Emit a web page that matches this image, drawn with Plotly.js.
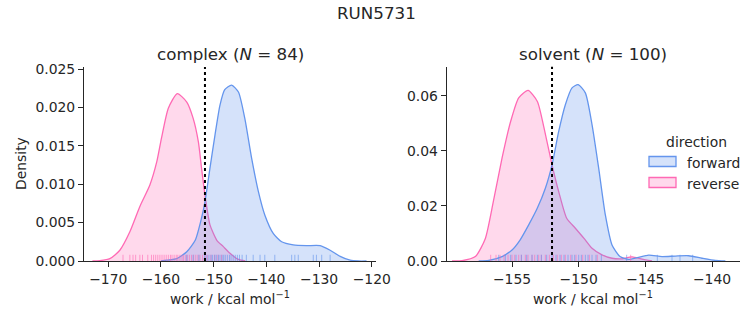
<!DOCTYPE html>
<html>
<head>
<meta charset="utf-8">
<script src="https://cdn.plot.ly/plotly-3.0.1.min.js"></script>
<style>html,body{margin:0;padding:0;background:#fff;}#plot{width:753px;height:325px;}</style>
</head>
<body>
<div id="plot"></div>
<script>
// ---- data ----
const complexFwdX = [-160, -158.9, -157.0, -155.1, -153.5, -152.3, -151.65, -150.7, -149.75, -148.8, -147.9, -146.6, -145.3, -144.1, -142.8, -141.5, -140.3, -138.7, -137.1, -134.9, -132.4, -129.8, -127.9, -126.0, -124.1, -122.5, -121];
const complexFwdY = [0, 0.0001, 0.0003, 0.0012, 0.0027, 0.0056, 0.0077, 0.0121, 0.0164, 0.0203, 0.0223, 0.0229, 0.0220, 0.0186, 0.0134, 0.0090, 0.0060, 0.0036, 0.0025, 0.0021, 0.0020, 0.0020, 0.0014, 0.0006, 0.0001, 0, 0];
const complexRevX = [-173, -171.6, -169.7, -167.8, -165.9, -164.0, -162.1, -160.8, -159.9, -158.6, -156.9, -155.1, -153.9, -152.9, -152.3, -151.65, -150.7, -149.4, -148.2, -146.9, -145.3, -144.0];
const complexRevY = [0, 0.00005, 0.0003, 0.0014, 0.0038, 0.0071, 0.0099, 0.0129, 0.0160, 0.0199, 0.0218, 0.0207, 0.0186, 0.0155, 0.0121, 0.0086, 0.0047, 0.0027, 0.0019, 0.0010, 0.0002, 0];
const solventFwdX = [-157.5, -156.75, -155.75, -155.0, -154.4, -153.75, -153.1, -152.5, -152.0, -151.5, -151.0, -150.5, -150.05, -149.5, -149.0, -148.5, -148.0, -147.5, -146.9, -146.25, -145.6, -144.75, -143.75, -142.75, -141.75, -140.75, -139.75, -139.0];
const solventFwdY = [0, 0.0002, 0.0016, 0.0040, 0.0076, 0.0131, 0.0192, 0.0264, 0.0349, 0.0470, 0.0567, 0.0628, 0.0640, 0.0610, 0.0495, 0.0337, 0.0167, 0.0058, 0.0016, 0.0006, 0.0012, 0.0021, 0.0016, 0.0018, 0.0019, 0.0010, 0.0002, 0];
const solventRevX = [-159.5, -158.75, -157.75, -157.0, -156.4, -155.75, -155.1, -154.5, -153.8, -153.1, -152.6, -152.0, -151.5, -150.9, -150.25, -149.6, -149.0, -148.25, -147.5, -146.75, -146.0, -145.25, -144.5];
const solventRevY = [0, 0.0001, 0.0016, 0.0082, 0.0216, 0.0373, 0.0507, 0.0592, 0.0619, 0.0579, 0.0483, 0.0349, 0.0252, 0.0155, 0.0119, 0.0082, 0.0046, 0.0022, 0.0010, 0.0008, 0.0015, 0.0007, 0];

const complexFwdRug = [-155.1, -153.9, -152.8, -151.7, -151.3, -150.9, -150.5, -150.2, -149.8, -149.5, -149.1, -148.8, -148.4, -148.1, -147.8, -147.4, -147.0, -146.7, -146.3, -145.9, -145.5, -145.1, -144.6, -143.8, -142.5, -141.2, -140.3, -138.4, -135.2, -134.6, -133.95, -131.1, -130.5, -129.5, -127.9];
const complexRevRug = [-167.2, -165.9, -165.3, -164.8, -164.0, -163.5, -162.5, -161.8, -161.4, -161.0, -160.6, -160.2, -159.8, -159.4, -159.0, -158.6, -158.2, -157.9, -157.5, -157.1, -156.8, -156.4, -156.0, -155.7, -155.3, -155.0, -154.6, -154.2, -153.8, -153.4, -153.0, -152.6, -152.1, -151.6, -151.2, -150.5, -149.8, -149.2, -148.5];
const solventFwdRug = [-156.0, -155.5, -155.1, -154.7, -154.3, -153.9, -153.5, -153.1, -152.8, -152.4, -152.0, -151.7, -151.4, -151.1, -150.8, -150.5, -150.3, -150.0, -149.8, -149.5, -149.3, -149.0, -148.7, -148.3, -146.4, -144.1, -143.0, -142.4, -141.45];
const solventRevRug = [-156.6, -156.2, -155.9, -155.6, -155.3, -155.0, -154.8, -154.5, -154.3, -154.0, -153.8, -153.5, -153.3, -153.0, -152.8, -152.5, -152.2, -151.9, -151.6, -151.3, -151.0, -150.6, -150.2, -149.7, -149.2, -148.6, -146.1];

const meanLines = [-151.65, -152.0];
const panelTitles = ['complex (<i>N</i> = 84)', 'solvent (<i>N</i> = 100)'];
const directions = ['forward', 'reverse'];

// ---- styling ----
const BLUE = '#6495ED', PINK = '#FF69B4';
const BLUEF = 'rgba(100,149,237,0.27)', PINKF = 'rgba(255,105,180,0.25)';
const FONT = 'DejaVu Sans, sans-serif';
const TXT = '#262626';
const W = 753, H = 325;
const px = v => v / W, py = v => 1 - v / H;

function kde(x, y, xa, ya, color, fill, name) {
  return {x: x, y: y, xaxis: xa, yaxis: ya, type: 'scatter', mode: 'lines',
    line: {color: color, width: 1.3, shape: 'spline', smoothing: 0.6},
    fill: 'toself', fillcolor: fill, name: name, showlegend: false, hoverinfo: 'skip'};
}
function rug(x, xa, ya, color) {
  return {x: x, y: x.map(() => 0.014), xaxis: xa, yaxis: ya, type: 'scatter', mode: 'markers',
    marker: {symbol: 'line-ns', size: 5, line: {color: color, width: 1}}, opacity: 0.6,
    showlegend: false, hoverinfo: 'skip'};
}
function legendEntry(name) {
  return {x: [null], y: [null], xaxis: 'x2', yaxis: 'y2', type: 'scatter', mode: 'lines',
    line: {color: 'rgba(0,0,0,0)', width: 0}, name: name, showlegend: true, hoverinfo: 'skip'};
}

const traces = [
  kde(complexRevX, complexRevY, 'x', 'y', PINK, PINKF, directions[1]),
  kde(complexFwdX, complexFwdY, 'x', 'y', BLUE, BLUEF, directions[0]),
  kde(solventRevX, solventRevY, 'x2', 'y2', PINK, PINKF, directions[1]),
  kde(solventFwdX, solventFwdY, 'x2', 'y2', BLUE, BLUEF, directions[0]),
  rug(complexRevRug, 'x', 'y3', PINK),
  rug(complexFwdRug, 'x', 'y3', BLUE),
  rug(solventRevRug, 'x2', 'y4', PINK),
  rug(solventFwdRug, 'x2', 'y4', BLUE),
  legendEntry(directions[0]),
  legendEntry(directions[1])
];

const axBase = {showgrid: false, zeroline: false, showline: true, linecolor: TXT, linewidth: 1,
  ticks: 'outside', ticklen: 5, tickwidth: 1, tickcolor: TXT,
  tickfont: {family: FONT, size: 13.9, color: TXT}, mirror: false, fixedrange: true};

// legend patches (drawn beside the legend labels)
const legendPatches = [
  {type: 'rect', xref: 'paper', yref: 'paper', x0: px(649), x1: px(676), y0: py(166.5), y1: py(156.5),
   fillcolor: BLUEF, line: {color: BLUE, width: 1.3}, layer: 'above'},
  {type: 'rect', xref: 'paper', yref: 'paper', x0: px(649), x1: px(676), y0: py(187.5), y1: py(177.5),
   fillcolor: PINKF, line: {color: PINK, width: 1.3}, layer: 'above'}
];

const layout = {
  width: W, height: H, margin: {l: 0, r: 0, t: 0, b: 0},
  paper_bgcolor: '#fff', plot_bgcolor: 'rgba(0,0,0,0)',
  font: {family: FONT, size: 13.9, color: TXT},
  xaxis: Object.assign({}, axBase, {domain: [px(84), px(376)], range: [-174.6, -119.2], anchor: 'y', dtick: 10, tick0: -170}),
  yaxis: Object.assign({}, axBase, {domain: [py(261), py(67)], range: [0, 0.02526], anchor: 'x', dtick: 0.005, tickformat: '.3f'}),
  xaxis2: Object.assign({}, axBase, {domain: [px(446.7), px(740)], range: [-159.9, -137.9], anchor: 'y2', dtick: 5, tick0: -155}),
  yaxis2: Object.assign({}, axBase, {domain: [py(261), py(66.7)], range: [0, 0.0705], anchor: 'x2', dtick: 0.02, tickformat: '.2f'}),
  yaxis3: {overlaying: 'y', range: [0, 1], visible: false, fixedrange: true, anchor: 'x'},
  yaxis4: {overlaying: 'y2', range: [0, 1], visible: false, fixedrange: true, anchor: 'x2'},
  shapes: [
    {type: 'line', xref: 'x', yref: 'y domain', x0: meanLines[0], x1: meanLines[0], y0: 0, y1: 1, line: {color: '#000', width: 2, dash: 'dot'}},
    {type: 'line', xref: 'x2', yref: 'y2 domain', x0: meanLines[1], x1: meanLines[1], y0: 0, y1: 1, line: {color: '#000', width: 2, dash: 'dot'}}
  ].concat(legendPatches),
  legend: {x: px(647), y: py(129), xanchor: 'left', yanchor: 'top', bgcolor: 'rgba(255,255,255,0)',
    font: {family: FONT, size: 13.9, color: TXT}, title: {text: 'direction', side: 'top center', font: {family: FONT, size: 13.9, color: TXT}},
    tracegroupgap: 0, itemwidth: 30},
  annotations: [
    {text: 'RUN5731', xref: 'paper', yref: 'paper', x: 0.5, y: py(13), xanchor: 'center', yanchor: 'middle', showarrow: false, font: {family: FONT, size: 16.7, color: TXT}},
    {text: panelTitles[0], xref: 'paper', yref: 'paper', x: px(230), y: py(54), xanchor: 'center', yanchor: 'middle', showarrow: false, font: {family: FONT, size: 16.7, color: TXT}},
    {text: panelTitles[1], xref: 'paper', yref: 'paper', x: px(593.3), y: py(54), xanchor: 'center', yanchor: 'middle', showarrow: false, font: {family: FONT, size: 16.7, color: TXT}},
    {text: 'work / kcal mol<sup>−1</sup>', xref: 'paper', yref: 'paper', x: px(230), y: py(298), xanchor: 'center', yanchor: 'middle', showarrow: false, font: {family: FONT, size: 13.9, color: TXT}},
    {text: 'work / kcal mol<sup>−1</sup>', xref: 'paper', yref: 'paper', x: px(593.3), y: py(298), xanchor: 'center', yanchor: 'middle', showarrow: false, font: {family: FONT, size: 13.9, color: TXT}},
    {text: 'Density', xref: 'paper', yref: 'paper', x: px(21), y: py(164), xanchor: 'center', yanchor: 'middle', textangle: -90, showarrow: false, font: {family: FONT, size: 13.9, color: TXT}}
  ]
};

Plotly.newPlot('plot', traces, layout, {staticPlot: true, displayModeBar: false});
</script>
</body>
</html>
